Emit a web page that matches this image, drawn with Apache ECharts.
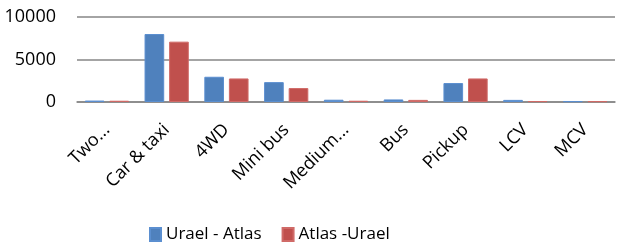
<!DOCTYPE html>
<html>
<head>
<meta charset="utf-8">
<script src="https://cdn.jsdelivr.net/npm/echarts@6/dist/echarts.min.js"></script>
<style>
html, body { margin: 0; padding: 0; background: #fff; }
#main { width: 624px; height: 247px; }
</style>
</head>
<body>
<div id="main"></div>
<script>
// 数据
var categories = ['Two...', 'Car & taxi', '4WD', 'Mini bus', 'Medium...', 'Bus', 'Pickup', 'LCV', 'MCV'];
var uraelAtlas = [170, 8000, 2970, 2340, 270, 300, 2230, 250, 90];
var atlasUrael = [150, 7100, 2770, 1640, 150, 250, 2770, 100, 90];
var yTicks = [0, 5000, 10000];

var font = 'Open Sans';

var option = {
    animation: false,
    grid: {
        left: 77,
        right: 9,
        top: 17,
        bottom: 145,
        containLabel: false
    },
    legend: {
        left: 144,
        top: 221,
        itemWidth: 11,
        itemHeight: 13,
        itemGap: 20,
        icon: 'rect',
        textStyle: { fontFamily: font, fontSize: 17, color: '#000' },
        data: ['Urael - Atlas', 'Atlas -Urael']
    },
    xAxis: {
        type: 'category',
        data: categories,
        axisTick: { show: false },
        axisLine: { lineStyle: { color: '#868686', width: 1.5 } },
        axisLabel: {
            interval: 0,
            rotate: 45,
            margin: 25,
            fontFamily: font,
            fontSize: 18,
            color: '#000'
        }
    },
    yAxis: {
        type: 'value',
        min: yTicks[0],
        max: yTicks[yTicks.length - 1],
        interval: 5000,
        axisLine: { show: false },
        axisTick: { show: false },
        axisLabel: {
            fontFamily: font,
            fontSize: 18,
            color: '#000',
            margin: 21,
            formatter: function (v) { return String(v); }
        },
        splitLine: { lineStyle: { color: '#868686', width: 1.5 } }
    },
    series: [{
        name: 'Urael - Atlas',
        type: 'bar',
        data: uraelAtlas,
        barGap: '25%',
        barCategoryGap: '26%',
        itemStyle: { color: '#4F81BD', borderColor: '#5b8fd0', borderWidth: 1 }
    }, {
        name: 'Atlas -Urael',
        type: 'bar',
        data: atlasUrael,
        itemStyle: { color: '#C0504D', borderColor: '#d06a67', borderWidth: 1 }
    }]
};

var chart = echarts.init(document.getElementById('main'));
chart.setOption(option);
</script>
</body>
</html>
